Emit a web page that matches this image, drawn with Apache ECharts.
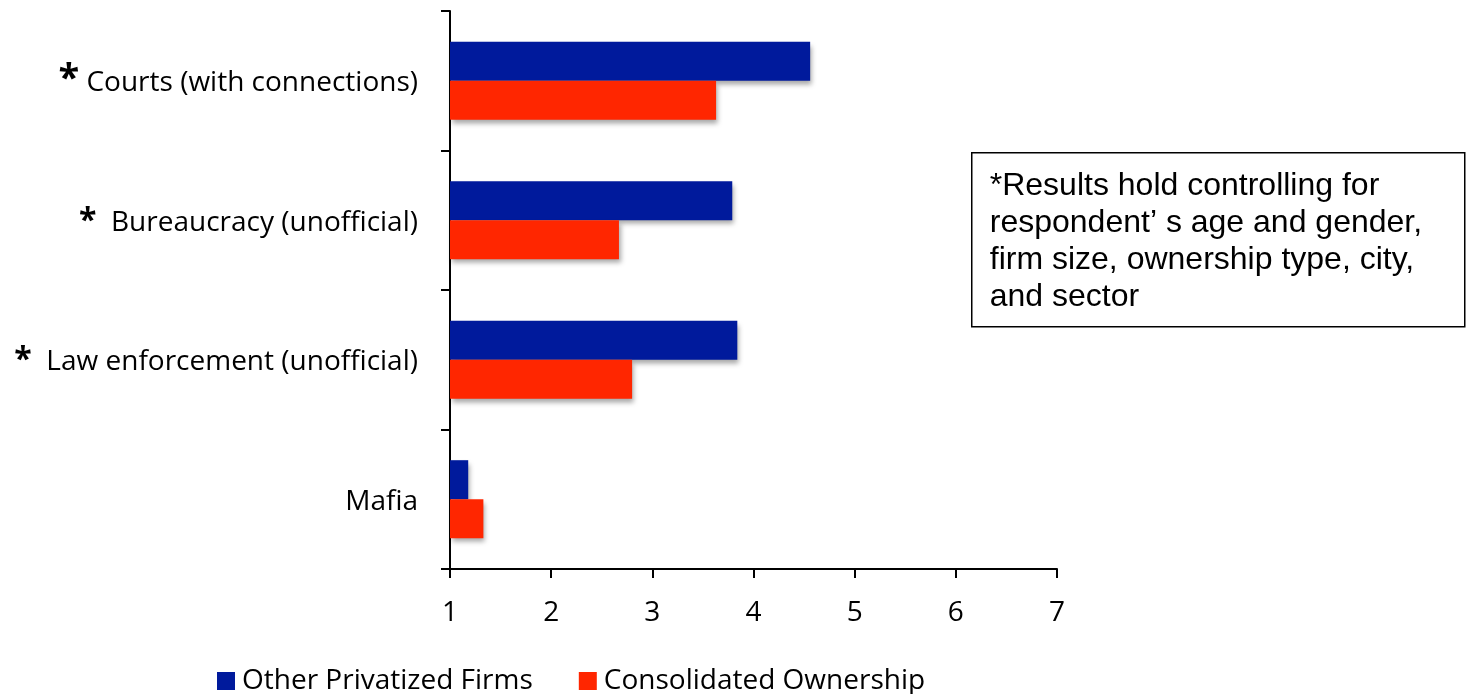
<!DOCTYPE html>
<html>
<head>
<meta charset="utf-8">
<script src="https://cdn.jsdelivr.net/npm/echarts@6/dist/echarts.min.js"></script>
<style>
  html, body { margin: 0; padding: 0; background: #fff; }
  #chart { width: 1467px; height: 694px; }
</style>
</head>
<body>
<div id="chart"></div>
<script>
// Categories (top to bottom) and the marker that precedes each label
const categories = ['Courts (with connections)', 'Bureaucracy (unofficial)', 'Law enforcement (unofficial)', 'Mafia'];
const starStyle = ['big', 'gap', 'gap', 'none'];

// Mean scores per group
const otherPrivatized = [4.56, 3.79, 3.84, 1.18];
const consolidated = [3.63, 2.67, 2.80, 1.33];

const seriesNames = ['Other Privatized Firms', 'Consolidated Ownership'];
const xTicks = [1, 2, 3, 4, 5, 6, 7];

const noteLines = [
  '*Results hold controlling for',
  'respondent\u2019 s age and gender,',
  'firm size, ownership type, city,',
  'and sector'
];

const BLUE = '#001A9C';
const RED = '#FF2600';
const LABEL_FONT = '"Open Sans", "Noto Sans", sans-serif';

const chart = echarts.init(document.getElementById('chart'));

const barShadow = {
  shadowColor: 'rgba(0,0,0,0.35)',
  shadowBlur: 5,
  shadowOffsetX: 2,
  shadowOffsetY: 4
};

chart.setOption({
  animation: false,
  backgroundColor: '#fff',
  grid: { left: 450, right: 410, top: 11, bottom: 125, containLabel: false },
  legend: {
    bottom: -6,
    left: 212,
    itemWidth: 18,
    itemHeight: 18,
    itemGap: 46,
    icon: 'rect',
    textStyle: { fontFamily: LABEL_FONT, fontSize: 28, color: '#000', padding: [0, 0, 0, 2] },
    data: seriesNames
  },
  xAxis: {
    type: 'value',
    min: xTicks[0],
    max: xTicks[xTicks.length - 1],
    interval: 1,
    splitLine: { show: false },
    axisLine: { show: true, lineStyle: { color: '#000', width: 2 } },
    axisTick: { show: true, length: 9, lineStyle: { color: '#000', width: 2 } },
    axisLabel: { fontFamily: LABEL_FONT, fontSize: 28, color: '#000', margin: 30 }
  },
  yAxis: {
    type: 'category',
    inverse: true,
    data: categories,
    axisLine: { show: true, lineStyle: { color: '#000', width: 2 } },
    axisTick: { show: true, length: 9, lineStyle: { color: '#000', width: 2 } },
    axisLabel: {
      margin: 32,
      fontFamily: LABEL_FONT,
      fontSize: 28,
      color: '#000',
      formatter: function (value, idx) {
        const s = starStyle[idx];
        if (s === 'big') return '{big|*}{t| ' + value + '}';
        if (s === 'gap') return '{star|*}{t|  ' + value + '}';
        return '{t|' + value + '}';
      },
      rich: {
        t: { fontFamily: LABEL_FONT, fontSize: 28, color: '#000', padding: [5, 0, 0, 0] },
        big: { fontFamily: LABEL_FONT, fontSize: 38, color: '#000', fontWeight: 'bold', padding: [0, 0, 2, 0] },
        star: { fontFamily: LABEL_FONT, fontSize: 32, color: '#000', fontWeight: 'bold', padding: [3, 0, 0, 0] }
      }
    }
  },
  series: [
    {
      name: seriesNames[0],
      type: 'bar',
      data: otherPrivatized,
      barGap: '0%',
      barCategoryGap: '44%',
      itemStyle: Object.assign({ color: BLUE }, barShadow)
    },
    {
      name: seriesNames[1],
      type: 'bar',
      data: consolidated,
      barGap: '0%',
      barCategoryGap: '44%',
      itemStyle: Object.assign({ color: RED }, barShadow)
    }
  ],
  graphic: [
    {
      type: 'group',
      left: 971,
      top: 152,
      children: [
        {
          type: 'rect',
          shape: { x: 0, y: 0, width: 493, height: 174 },
          style: { fill: '#fff', stroke: '#000', lineWidth: 1.5 }
        },
        {
          type: 'text',
          x: 18,
          y: 15,
          style: {
            text: noteLines.join('\n'),
            font: '32px "Liberation Sans", Arial, sans-serif',
            lineHeight: 37,
            fill: '#000'
          }
        }
      ]
    }
  ]
});
</script>
</body>
</html>
